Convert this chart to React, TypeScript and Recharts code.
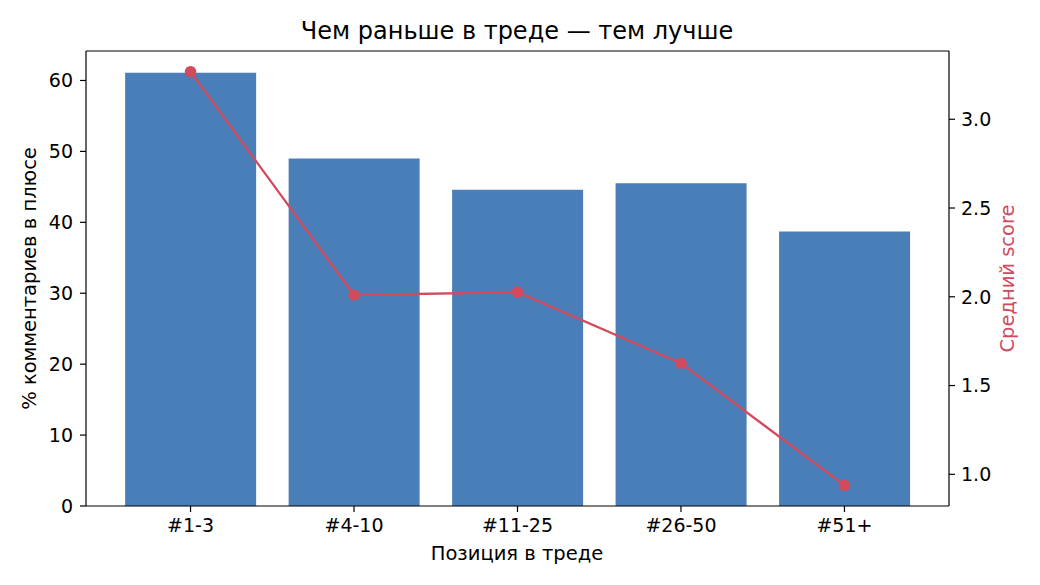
import React from 'react';
import { ComposedChart, Bar, Line, XAxis, YAxis, ReferenceLine, Customized } from 'recharts';

const categories = ['#1-3', '#4-10', '#11-25', '#26-50', '#51+'];
const pctPositive = [61.1, 49.0, 44.6, 45.5, 38.7];
const avgScore = [3.268, 2.01, 2.026, 1.626, 0.938];
const leftTicks = [0, 10, 20, 30, 40, 50, 60];
const rightTicks = [1.0, 1.5, 2.0, 2.5, 3.0];

const data = categories.map((c, i) => ({ cat: c, pct: pctPositive[i], score: avgScore[i] }));

const leftMax = Math.max(...pctPositive) * 1.05;
const scoreRange = Math.max(...avgScore) - Math.min(...avgScore);

const BLUE = '#4a7eb8';
const RED = '#d24a5c';
const FONT = 'DejaVu Sans, sans-serif';
const TICK_FS = 19;
const LABEL_FS = 19.5;

const Texts = () => (
  <g fontFamily={FONT}>
    <text x={517} y={39} textAnchor="middle" fontSize={24} fill="#000">
      Чем раньше в треде — тем лучше
    </text>
    <text x={517} y={560} textAnchor="middle" fontSize={LABEL_FS} fill="#000">
      Позиция в треде
    </text>
    <text x={36} y={278.5} textAnchor="middle" fontSize={LABEL_FS} fill="#000" transform="rotate(-90 36 278.5)">
      % комментариев в плюсе
    </text>
    <text x={1014} y={278.5} textAnchor="middle" fontSize={LABEL_FS} fill={RED} transform="rotate(-90 1014 278.5)">
      Средний score
    </text>
  </g>
);

export default function App() {
  return (
    <div style={{ position: 'absolute', left: 0, top: 0, width: 1040, height: 585, background: '#fff' }}>
      <ComposedChart
        width={1040}
        height={585}
        data={data}
        margin={{ top: 51, right: 0, bottom: 0, left: 0 }}
        style={{ fontFamily: FONT }}
      >
        <XAxis
          dataKey="cat"
          height={79}
          padding={{ left: 22.8, right: 22.8 }}
          tickSize={6}
          tickMargin={7}
          axisLine={{ stroke: '#000', strokeWidth: 1.2 }}
          tickLine={{ stroke: '#000', strokeWidth: 1.2 }}
          tick={{ fill: '#000', fontSize: TICK_FS }}
        />
        <YAxis
          yAxisId="left"
          width={86}
          domain={[0, leftMax]}
          allowDataOverflow
          ticks={leftTicks}
          tickSize={6}
          tickMargin={7}
          axisLine={{ stroke: '#000', strokeWidth: 1.2 }}
          tickLine={{ stroke: '#000', strokeWidth: 1.2 }}
          tick={{ fill: '#000', fontSize: TICK_FS }}
        />
        <YAxis
          yAxisId="right"
          orientation="right"
          width={91}
          domain={[
            Math.min(...avgScore) - 0.05 * scoreRange,
            Math.max(...avgScore) + 0.05 * scoreRange,
          ]}
          allowDataOverflow
          ticks={rightTicks}
          tickFormatter={(v: number) => v.toFixed(1)}
          tickSize={6}
          tickMargin={6}
          axisLine={{ stroke: '#000', strokeWidth: 1.2 }}
          tickLine={{ stroke: '#000', strokeWidth: 1.2 }}
          tick={{ fill: '#000', fontSize: TICK_FS }}
        />
        <Bar yAxisId="left" dataKey="pct" fill={BLUE} barCategoryGap="10%" isAnimationActive={false} />
        <ReferenceLine yAxisId="left" y={leftMax} stroke="#000" strokeWidth={1.2} ifOverflow="extendDomain" />
        <Line
          yAxisId="right"
          dataKey="score"
          stroke={RED}
          strokeWidth={2.3}
          dot={{ r: 5.8, fill: RED, stroke: RED, strokeWidth: 0 }}
          activeDot={false}
          isAnimationActive={false}
        />
        <Customized component={Texts} />
      </ComposedChart>
    </div>
  );
}
